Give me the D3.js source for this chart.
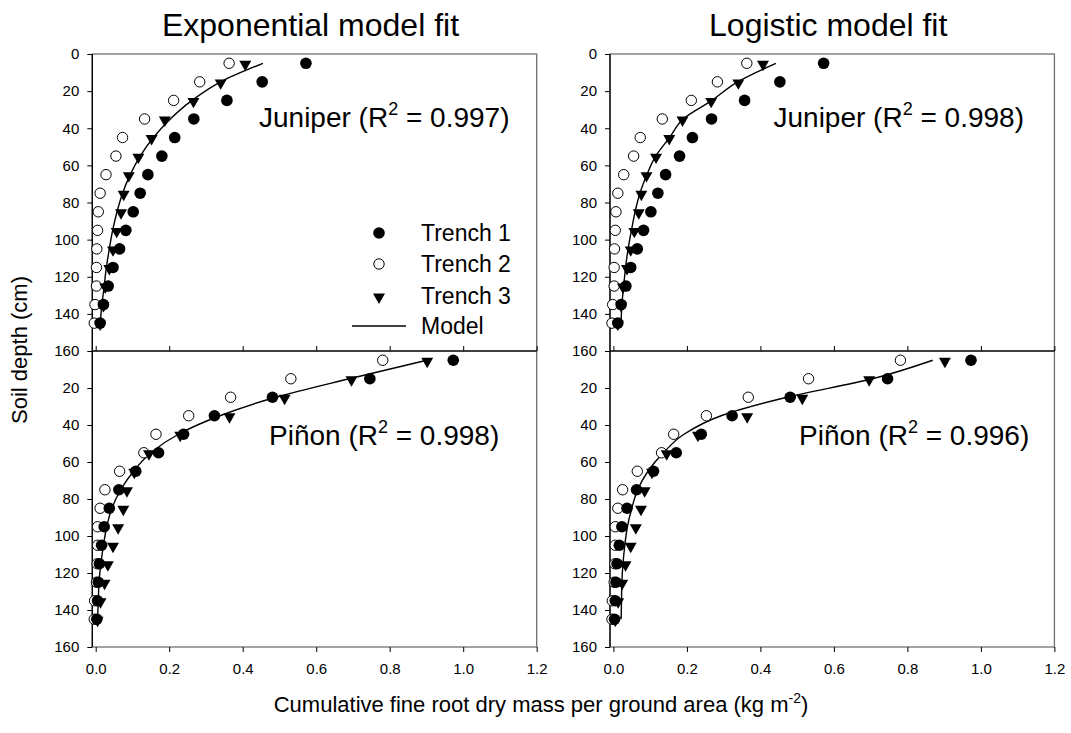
<!DOCTYPE html>
<html><head><meta charset="utf-8">
<script src="https://cdn.jsdelivr.net/npm/d3@7"></script>
<style>
body{margin:0;background:#fff}
svg{display:block}
text{font-family:"Liberation Sans",Arial,Helvetica,sans-serif;fill:#000}
</style>
</head><body>
<svg id="chart" width="1071" height="733"></svg>
<script>
// ---------------- data ----------------
const depths = [5,15,25,35,45,55,65,75,85,95,105,115,125,135,145];

const juniperTrench1 = [0.572,0.453,0.357,0.267,0.215,0.180,0.142,0.121,0.102,0.082,0.065,0.047,0.034,0.021,0.012];
const juniperTrench2 = [0.363,0.283,0.212,0.133,0.073,0.055,0.028,0.012,0.007,0.005,0.003,0.002,0.002,-0.002,-0.004];
const juniperTrench3 = [0.407,0.340,0.266,0.188,0.152,0.116,0.090,0.076,0.069,0.057,0.047,0.037,0.026,0.021,0.012];

const pinonTrench1 = [0.973,0.746,0.481,0.323,0.239,0.171,0.109,0.063,0.037,0.023,0.016,0.010,0.007,0.005,0.003];
const pinonTrench2 = [0.781,0.531,0.367,0.253,0.164,0.131,0.065,0.025,0.012,0.005,0.005,0.004,0.002,-0.003,-0.004];
const pinonTrench3 = [0.902,0.696,0.514,0.364,0.230,0.145,0.105,0.085,0.075,0.061,0.047,0.033,0.024,0.013,0.005];

const juniperExpModel = [0.455,0.340,0.262,0.203,0.157,0.121,0.094,0.073,0.058,0.046,0.037,0.029,0.023,0.017,0.012];
const juniperLogModel = [0.442,0.338,0.268,0.190,0.153,0.115,0.091,0.072,0.059,0.049,0.040,0.033,0.028,0.023,0.021];
const pinonExpModel   = [0.901,0.690,0.490,0.338,0.225,0.150,0.103,0.068,0.044,0.030,0.021,0.014,0.009,0.007,0.005];
const pinonLogModel   = [0.869,0.705,0.472,0.293,0.192,0.136,0.094,0.066,0.050,0.038,0.031,0.026,0.023,0.022,0.021];

const xTicks = [0,0.2,0.4,0.6,0.8,1.0,1.2];
const yTicksTop = [0,20,40,60,80,100,120,140,160];
const yTicksBottom = [20,40,60,80,100,120,140,160];

const panelTitles = ["Exponential model fit","Logistic model fit"];
const juniperR2 = ["0.997","0.998"];
const pinonR2 = ["0.998","0.996"];
const legendLabels = ["Trench 1","Trench 2","Trench 3","Model"];
const yLabel = "Soil depth (cm)";
const xLabel = "Cumulative fine root dry mass per ground area (kg m";

// ---------------- layout ----------------
const svg = d3.select("#chart");
const colX0 = [92.3, 610];
const panelW = 444.4;
const yTopRange = [54, 351];
const yBotRange = [351, 647];
const FONT = '"Liberation Sans",Arial,Helvetica,sans-serif';
const R_FILL = 5.8, R_OPEN = 5.2, TRI = 62;

const models = [
  {jun: juniperExpModel, pin: pinonExpModel},
  {jun: juniperLogModel, pin: pinonLogModel}
];

function drawSeries(g, x, y, t1, t2, t3, model) {
  const line = d3.line()
    .x((d,i)=>x(model[i]))
    .y(d=>y(d))
    .curve(d3.curveMonotoneY);
  g.append("path").datum(depths).attr("d", line)
    .attr("fill","none").attr("stroke","#000").attr("stroke-width",1.4);

  g.selectAll(null).data(depths).enter().append("circle")
    .attr("cx",(d,i)=>x(t2[i])).attr("cy",d=>y(d)).attr("r",R_OPEN)
    .attr("fill","#fff").attr("stroke","#000").attr("stroke-width",1);

  const tri = d3.symbol().type(d3.symbolTriangle).size(TRI);
  g.selectAll(null).data(depths).enter().append("path")
    .attr("d", tri())
    .attr("transform",(d,i)=>`translate(${x(t3[i])},${y(d)+1}) rotate(180)`)
    .attr("fill","#000");

  g.selectAll(null).data(depths).enter().append("circle")
    .attr("cx",(d,i)=>x(t1[i])).attr("cy",d=>y(d)).attr("r",R_FILL)
    .attr("fill","#000");
}

function styleAxis(sel, size) {
  sel.select(".domain").remove();
  sel.selectAll(".tick line").attr("stroke","#000");
  sel.selectAll(".tick text").style("font-family",FONT).style("font-size",size+"px").attr("fill","#000");
}

colX0.forEach((x0, c) => {
  const x = d3.scaleLinear().domain([-0.0093, 1.2]).range([x0, x0 + panelW]);
  const yTop = d3.scaleLinear().domain([0,160]).range(yTopRange);
  const yBot = d3.scaleLinear().domain([0,160]).range(yBotRange);
  const g = svg.append("g");

  // frame
  g.append("rect").attr("x",x0).attr("y",yTopRange[0]).attr("width",panelW)
    .attr("height",yBotRange[1]-yTopRange[0]).attr("fill","none").attr("stroke","#707070").attr("stroke-width",1.3);
  g.append("line").attr("x1",x0).attr("x2",x0).attr("y1",yTopRange[0]).attr("y2",yBotRange[1])
    .attr("stroke","#000").attr("stroke-width",1.3);
  g.append("line").attr("x1",x0).attr("x2",x0+panelW).attr("y1",yTopRange[1]).attr("y2",yTopRange[1])
    .attr("stroke","#000").attr("stroke-width",1.3);

  // axes
  g.append("g").attr("transform",`translate(${x0},0)`)
    .call(d3.axisLeft(yTop).tickValues(yTicksTop).tickSize(5).tickPadding(8).tickFormat(d3.format("d")))
    .call(s=>styleAxis(s,15));
  g.append("g").attr("transform",`translate(${x0},0)`)
    .call(d3.axisLeft(yBot).tickValues(yTicksBottom).tickSize(5).tickPadding(8).tickFormat(d3.format("d")))
    .call(s=>styleAxis(s,15));
  g.append("g").attr("transform",`translate(0,${yTopRange[1]})`)
    .call(d3.axisTop(x).tickValues(xTicks).tickSize(5).tickFormat(""))
    .call(s=>styleAxis(s,15));
  g.append("g").attr("transform",`translate(0,${yBotRange[1]})`)
    .call(d3.axisBottom(x).tickValues(xTicks).tickSize(5).tickPadding(11).tickFormat(d3.format(".1f")))
    .call(s=>styleAxis(s,15));

  // data
  drawSeries(g, x, yTop, juniperTrench1, juniperTrench2, juniperTrench3, models[c].jun);
  drawSeries(g, x, yBot, pinonTrench1, pinonTrench2, pinonTrench3, models[c].pin);

  // title
  svg.append("text").attr("x", x0 + panelW/2 - 4).attr("y", 36)
    .attr("text-anchor","middle").style("font-size","32px").text(panelTitles[c]);

  // R2 labels
  const lab = (txt, r2, xx, yy) => {
    const t = svg.append("text").attr("x",xx).attr("y",yy).style("font-size","28px");
    t.append("tspan").text(txt + " (R");
    t.append("tspan").attr("dy",-12).style("font-size","18px").text("2");
    t.append("tspan").attr("dy",12).text(" = " + r2 + ")");
  };
  lab("Juniper", juniperR2[c], c===0 ? 259 : 773.5, 127);
  lab("Piñon", pinonR2[c], c===0 ? 269 : 799, 445);
});

// legend (top-left panel)
const lg = svg.append("g");
const legY = [233, 264, 296, 326];
lg.append("circle").attr("cx",379).attr("cy",legY[0]).attr("r",R_FILL).attr("fill","#000");
lg.append("circle").attr("cx",379).attr("cy",legY[1]).attr("r",R_OPEN).attr("fill","#fff").attr("stroke","#000");
lg.append("path").attr("d", d3.symbol().type(d3.symbolTriangle).size(TRI)())
  .attr("transform",`translate(379,${legY[2]+1}) rotate(180)`).attr("fill","#000");
lg.append("line").attr("x1",352).attr("x2",406).attr("y1",legY[3]).attr("y2",legY[3])
  .attr("stroke","#000").attr("stroke-width",1.4);
legendLabels.forEach((l,i)=>{
  lg.append("text").attr("x",421).attr("y",legY[i]+8).style("font-size","23px").text(l);
});

// axis labels
svg.append("text").attr("transform","translate(27,350) rotate(-90)")
  .attr("text-anchor","middle").style("font-size","22px").text(yLabel);
const xl = svg.append("text").attr("x",541).attr("y",712).attr("text-anchor","middle").style("font-size","22px");
xl.append("tspan").text(xLabel);
xl.append("tspan").attr("dy",-9).style("font-size","14px").text("-2");
xl.append("tspan").attr("dy",9).text(")");
</script>
</body></html>
